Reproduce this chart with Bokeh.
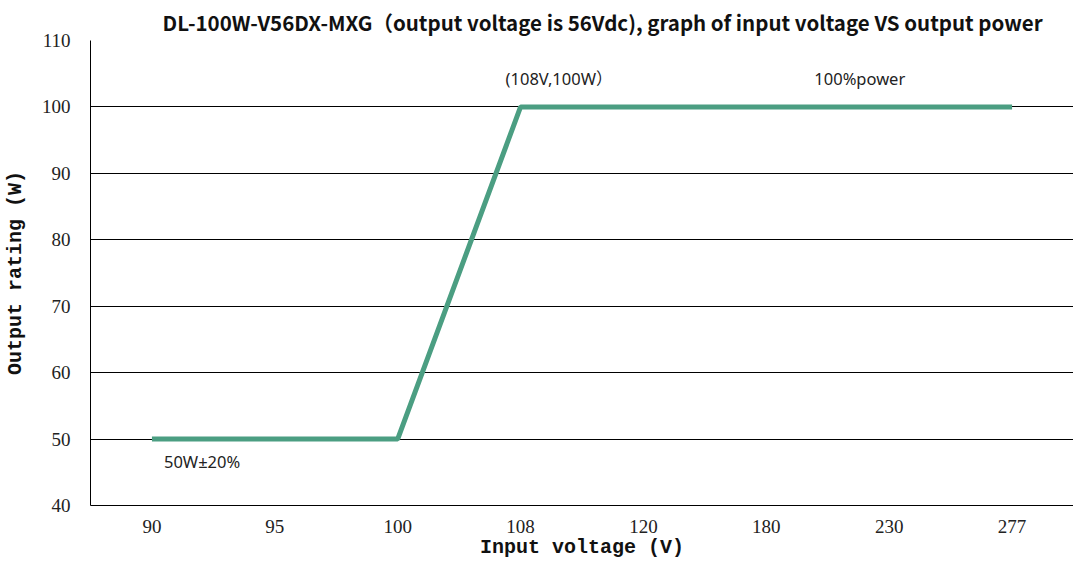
from bokeh.plotting import figure
from bokeh.models import FactorRange, Range1d, ColumnDataSource
from bokeh.core.properties import value
from bokeh.embed import file_html
from bokeh.resources import INLINE

# ---- data ----
voltages = ["90", "95", "100", "108", "120", "180", "230", "277"]
line_x = ["90", "95", "100", "108", "120", "180", "230", "277"]
line_y = [50, 50, 50, 100, 100, 100, 100, 100]
y_ticks = [40, 50, 60, 70, 80, 90, 100, 110]

note_text = ["(108V,100W）", "100%power", "50W±20%"]
note_x = ["108", "180", "90"]
note_y = [100, 100, 50]

title_text = "DL-100W-V56DX-MXG（output voltage is 56Vdc), graph of input voltage VS output power"

p = figure(
    width=1073, height=561,
    x_range=FactorRange(*voltages, range_padding=0),
    y_range=Range1d(40, 110),
    output_backend="svg", toolbar_location=None,
    min_border_left=76, min_border_right=0, min_border_top=0, min_border_bottom=0,
)

p.title.text = title_text
p.title.align = "left"
p.title.text_font = "Noto Sans CJK SC"
p.title.text_font_style = "bold"
p.title.text_font_size = "20.5px"
p.title.text_color = "#111111"
p.title.offset = 72
p.title.standoff = 8

p.outline_line_color = None
p.background_fill_color = "white"
p.border_fill_color = "white"

p.xgrid.grid_line_color = None
p.ygrid.grid_line_color = "black"
p.ygrid.grid_line_width = 1
p.yaxis.ticker = y_ticks

for ax in (p.xaxis[0], p.yaxis[0]):
    ax.axis_line_color = "black"
    ax.axis_line_width = 1
    ax.major_tick_line_color = None
    ax.minor_tick_line_color = None
    ax.major_label_text_font = "Liberation Serif"
    ax.major_label_text_font_size = "19px"
    ax.major_label_text_color = "#222222"
    ax.axis_label_text_font = "Liberation Mono"
    ax.axis_label_text_font_style = "bold"
    ax.axis_label_text_font_size = "20px"
    ax.axis_label_text_color = "#111111"

p.xaxis.axis_label = "Input voltage (V)"
p.yaxis.axis_label = "Output rating (W)"
p.xaxis.major_label_standoff = 8
p.xaxis.axis_label_standoff = 0
p.yaxis.major_label_standoff = 14
p.yaxis.axis_label_standoff = 12

src = ColumnDataSource(dict(x=line_x, y=line_y))
p.line("x", "y", source=src, line_color="#4B9E82", line_width=5)

offsets_x = [-15, 48, 12]
offsets_y = [-28, -28, 22]
nsrc = ColumnDataSource(dict(x=note_x, y=note_y, t=note_text, dx=offsets_x, dy=offsets_y))
p.text("x", "y", text="t", source=nsrc, x_offset="dx", y_offset="dy",
       text_font=value("Noto Sans, Noto Sans CJK SC"), text_font_size="16.5px",
       text_color="#222222", text_align="left", text_baseline="middle")

open("out.html", "w").write(file_html(p, INLINE))
